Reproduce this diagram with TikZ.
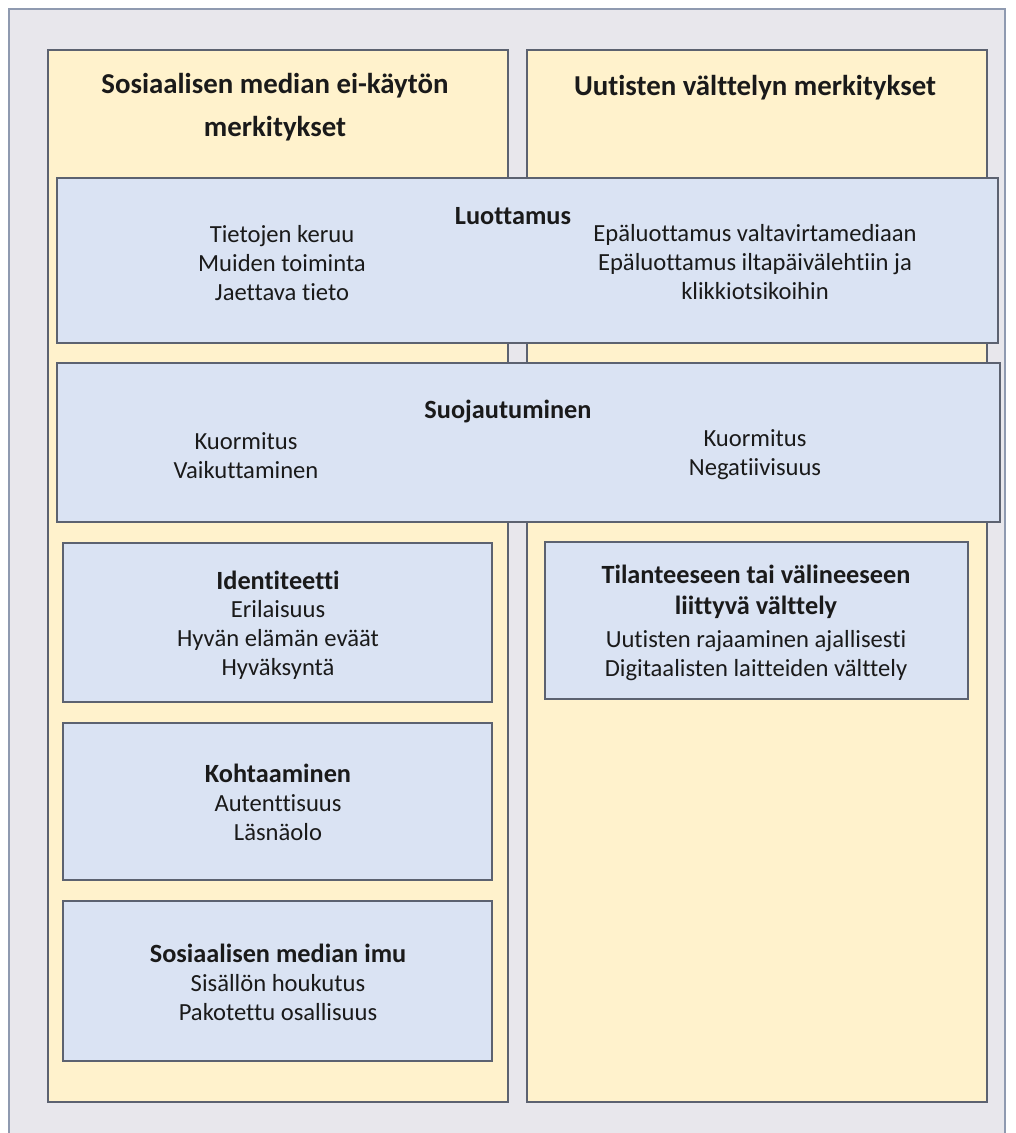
\documentclass[tikz,border=0pt]{standalone}
\usepackage{fontspec}
\setmainfont{Carlito}[Ligatures={NoCommon,NoRequired,NoContextual}]
\definecolor{framegray}{HTML}{E8E7EC}
\definecolor{frameedge}{HTML}{8F9AB0}
\definecolor{panelyellow}{HTML}{FFF2CC}
\definecolor{boxblue}{HTML}{DAE3F3}
\definecolor{edgegray}{HTML}{5C6270}
\definecolor{inkblack}{HTML}{1A1A1A}

\def\lw{1.4pt}

\tikzset{
  panel/.style = {fill=panelyellow, draw=edgegray, line width=\lw},
  themebox/.style = {fill=boxblue, draw=edgegray, line width=\lw},
  title/.style = {align=center, text=inkblack,
    font=\bfseries\fontsize{20.5}{30.5}\selectfont},
  head/.style = {align=center, text=inkblack,
    font=\bfseries\fontsize{18.7}{22}\selectfont},
  items/.style = {align=center, text=inkblack,
    font=\fontsize{17.5}{20.6}\selectfont}
}

\begin{document}
\begin{tikzpicture}[x=0.025cm, y=-0.025cm]
\useasboundingbox (0,0) rectangle (1015,1133);
\clip (0,0) rectangle (1015,1133);
\fill[white] (0,0) rectangle (1015,1133);

% tausta
\draw[fill=framegray, draw=frameedge, line width=1pt] (9,9) rectangle (1005,1150);

% paneelit
\draw[panel] (48,50) rectangle (508,1102);
\draw[panel] (527,50) rectangle (987,1102);
\node[title] (lefttitle) at (275,107) {Sosiaalisen median ei-käytön\\merkitykset};
\node[title] (righttitle) at (755,88) {Uutisten välttelyn merkitykset};

% yhteiset teemat
\draw[themebox] (57,178) rectangle (998,343);
\node[head] (trust) at (513,216) {Luottamus};
\node[items] (trustleft) at (282,263) {Tietojen keruu\\Muiden toiminta\\Jaettava tieto};
\node[items] (trustright) at (755,262) {Epäluottamus valtavirtamediaan\\Epäluottamus iltapäivälehtiin ja\\klikkiotsikoihin};

\draw[themebox] (57,363) rectangle (1000,522);
\node[head] (protect) at (508,411) {Suojautuminen};
\node[items] (protectleft) at (246,456) {Kuormitus\\Vaikuttaminen};
\node[items] (protectright) at (755,455) {Kuormitus\\Negatiivisuus};

% vasen sarake
\draw[themebox] (63,543) rectangle (492,702);
\node[head] (ident) at (278,580) {Identiteetti};
\node[items] (identlist) at (278,640) {Erilaisuus\\Hyvän elämän eväät\\Hyväksyntä};

\draw[themebox] (63,723) rectangle (492,880);
\node[head] (meet) at (278,773) {Kohtaaminen};
\node[items] (meetlist) at (278,818) {Autenttisuus\\Läsnäolo};

\draw[themebox] (63,901) rectangle (492,1061);
\node[head] (pull) at (278,953) {Sosiaalisen median imu};
\node[items] (pulllist) at (278,998) {Sisällön houkutus\\Pakotettu osallisuus};

% oikea sarake
\draw[themebox] (545,542) rectangle (968,699);
\node[head] (situ) at (756,592) {Tilanteeseen tai välineeseen\\liittyvä välttely};
\node[items] (situlist) at (756,656) {Uutisten rajaaminen ajallisesti\\Digitaalisten laitteiden välttely};
\end{tikzpicture}
\end{document}
